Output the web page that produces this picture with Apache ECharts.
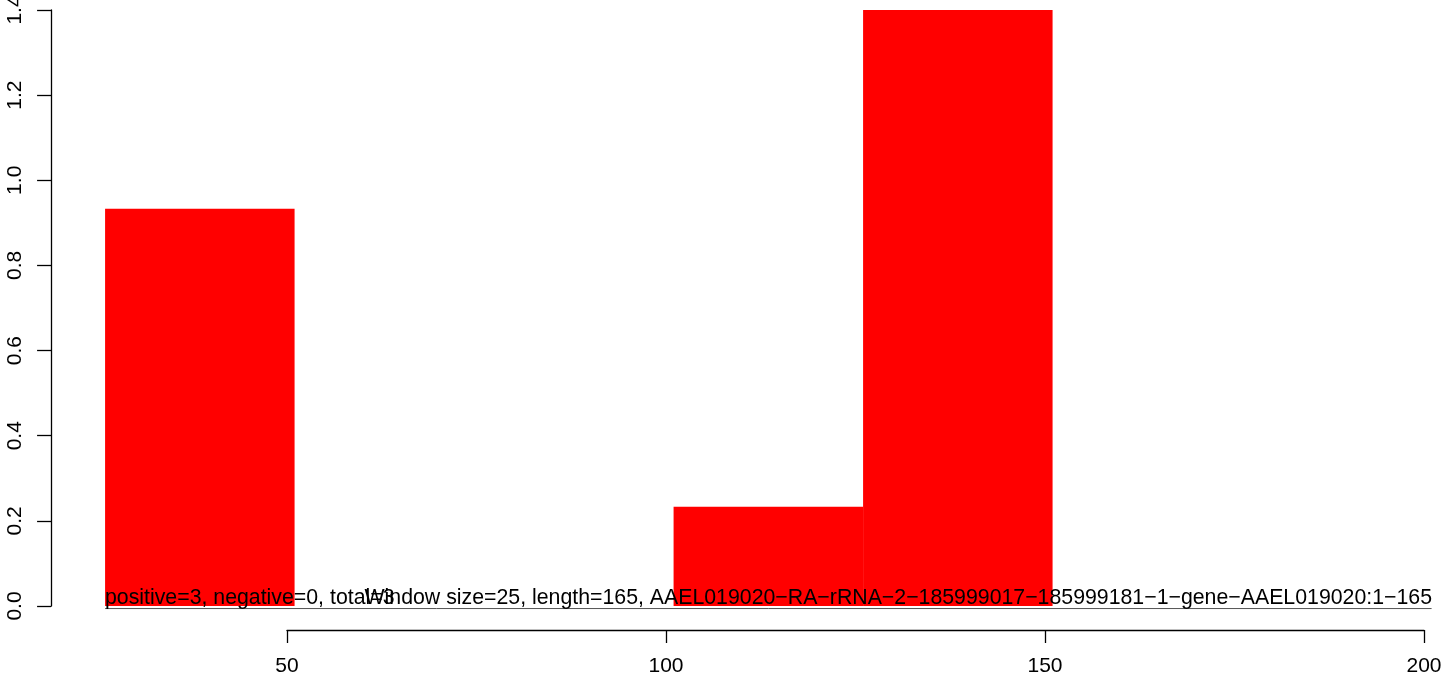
<!DOCTYPE html>
<html>
<head>
<meta charset="utf-8">
<script src="https://cdn.jsdelivr.net/npm/echarts@6/dist/echarts.min.js"></script>
<style>
html,body{margin:0;padding:0;background:#fff;}
#c{width:1444px;height:681px;}
</style>
</head>
<body>
<div id="c"></div>
<script>
// Window bins (start, end) and their values
var binStarts = [26, 51, 76, 101, 126];
var binEnds   = [51, 76, 101, 126, 151];
var binValues = [0.933, 0, 0, 0.233, 1.4];
var yTicks = [0, 0.2, 0.4, 0.6, 0.8, 1.0, 1.2, 1.4];
var xTicks = [50, 100, 150, 200];
var baseLine = [[26, -0.006], [201, -0.006]];
var leftText = 'positive=3, negative=0, total=3';
var rightText = 'Window size=25, length=165, AAEL019020\u2212RA\u2212rRNA\u22122\u2212185999017\u2212185999181\u22121\u2212gene\u2212AAEL019020:1\u2212165';

var FONT = '"Liberation Sans", Arial, Helvetica, sans-serif';
var FS = 21;
var TFS = 21.3;
var bars = binStarts.map(function (s, i) { return [s, binEnds[i], binValues[i]]; });

var chart = echarts.init(document.getElementById('c'), null, {renderer: 'canvas'});
var pxPerUnit = 1137 / 150;
var option = {
  animation: false,
  backgroundColor: '#ffffff',
  grid: [
    {left: 287 - 24 * pxPerUnit, top: 10, width: 176 * pxPerUnit, height: 596, containLabel: false, outerBoundsMode: 'none'},
    {left: 287, top: 620, width: 1137, height: 10, containLabel: false, outerBoundsMode: 'none'}
  ],
  xAxis: [
    {gridIndex: 0, type: 'value', min: 26, max: 202, show: false},
    {gridIndex: 1, type: 'value', min: 50, max: 200, interval: 50,
     axisLine: {show: true, lineStyle: {color: '#000', width: 1.3}},
     axisTick: {show: true, length: 13, lineStyle: {color: '#000', width: 1.3}},
     axisLabel: {show: true, margin: 26, color: '#000', fontSize: FS, fontFamily: FONT,
       formatter: function (v) { return xTicks.indexOf(v) >= 0 ? String(v) : ''; }},
     splitLine: {show: false}}
  ],
  yAxis: [
    {gridIndex: 0, type: 'value', min: 0, max: 1.4, interval: 0.2, offset: 54,
     axisLine: {show: true, lineStyle: {color: '#000', width: 1.3}},
     axisTick: {show: true, length: 14, lineStyle: {color: '#000', width: 1.3}},
     axisLabel: {show: true, rotate: 90, margin: 25, color: '#000', fontSize: FS, fontFamily: FONT,
       formatter: function (v) {
         var t = yTicks.filter(function (y) { return Math.abs(y - v) < 1e-9; });
         return t.length ? t[0].toFixed(1) : '';
       }},
     splitLine: {show: false}},
    {gridIndex: 1, type: 'value', show: false}
  ],
  series: [
    {
      type: 'custom', xAxisIndex: 0, yAxisIndex: 0, clip: false,
      data: bars,
      renderItem: function (params, api) {
        var p1 = api.coord([api.value(0), api.value(2)]);
        var p2 = api.coord([api.value(1), 0]);
        return {type: 'rect', shape: {x: p1[0], y: p1[1], width: p2[0] - p1[0], height: p2[1] - p1[1]},
          style: {fill: '#ff0000'}};
      }
    },
    {
      type: 'line', xAxisIndex: 0, yAxisIndex: 0, data: baseLine, symbol: 'none', clip: false,
      lineStyle: {color: '#555', width: 1}, silent: true, z: 3
    }
  ],
  graphic: [
    {type: 'text', left: 105, top: 588, z: 10,
     style: {text: leftText, fill: '#000', font: TFS + 'px ' + FONT}},
    {type: 'text', right: 1444 - 1432, top: 588, z: 10,
     style: {text: rightText, fill: '#000', font: TFS + 'px ' + FONT}}
  ]
};
chart.setOption(option);
</script>
</body>
</html>
